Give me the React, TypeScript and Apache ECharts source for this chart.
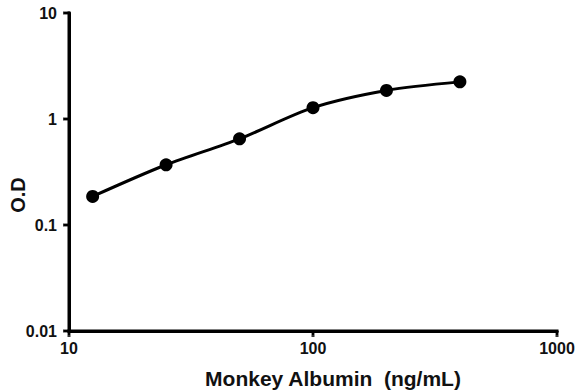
import React, { useEffect, useRef } from "react";
import * as echarts from "echarts";

const concentrations = [12.5, 25, 50, 100, 200, 400];
const odValues = [0.186, 0.37, 0.65, 1.28, 1.86, 2.24];
const xTicks = [10, 100, 1000];
const yTicks = [0.01, 0.1, 1, 10];
const xTitle = "Monkey Albumin  (ng/mL)";
const yTitle = "O.D";

export default function App() {
  const ref = useRef<HTMLDivElement>(null);
  useEffect(() => {
    document.body.style.margin = "0";
    document.body.style.background = "#ffffff";
    const chart = echarts.init(ref.current!, null, { renderer: "svg" });
    const font = "Liberation Sans, Arial, sans-serif";
    const xMin = xTicks[0];
    const xMax = xTicks[xTicks.length - 1];
    const yMin = yTicks[0];
    const yMax = yTicks[yTicks.length - 1];
    const axisSeriesBase = {
      type: "line",
      symbol: "none",
      clip: false,
      silent: true,
      z: 1,
      lineStyle: { color: "#000", width: 3, cap: "square" },
    };
    const tickSeriesBase = {
      type: "scatter",
      symbol: "rect",
      clip: false,
      silent: true,
      z: 1,
      itemStyle: { color: "#000" },
    };
    chart.setOption({
      animation: false,
      grid: {
        left: 69,
        top: 13,
        width: 488,
        height: 318,
        containLabel: false,
        outerBoundsMode: "none",
      },
      xAxis: {
        type: "log",
        logBase: 10,
        min: xMin,
        max: xMax,
        name: xTitle,
        nameLocation: "middle",
        nameGap: 37,
        nameMoveOverlap: false,
        nameTextStyle: {
          fontFamily: font,
          fontWeight: "bold",
          fontSize: 21,
          color: "#111",
          padding: [0, 0, 0, 40],
        },
        axisLine: { show: true, onZero: false, lineStyle: { color: "#000", width: 3 } },
        axisTick: { show: true, length: 4, lineStyle: { color: "#000", width: 2 } },
        axisLabel: {
          fontFamily: font,
          fontWeight: "bold",
          fontSize: 16,
          color: "#111",
          margin: 9,
          formatter: (v: number) => String(Math.round(v)),
        },
        splitLine: { show: false },
      },
      yAxis: {
        type: "log",
        logBase: 10,
        min: yMin,
        max: yMax,
        name: yTitle,
        nameLocation: "middle",
        nameGap: 41,
        nameMoveOverlap: false,
        nameRotate: 90,
        nameTextStyle: {
          fontFamily: font,
          fontWeight: "bold",
          fontSize: 20,
          color: "#111",
          padding: [0, 46, 0, 0],
        },
        axisLine: { show: true, onZero: false, lineStyle: { color: "#000", width: 3 } },
        axisTick: { show: true, length: 5, lineStyle: { color: "#000", width: 2 } },
        axisLabel: {
          fontFamily: font,
          fontWeight: "bold",
          fontSize: 16,
          color: "#111",
          margin: 12,
          formatter: (v: number) => String(v),
        },
        splitLine: { show: false },
      },
      series: [
        // x axis line
        { ...axisSeriesBase, data: [[xMin, yMin], [xMax, yMin]] },
        // y axis line
        { ...axisSeriesBase, data: [[xMin, yMin], [xMin, yMax]] },
        // x axis ticks (below the axis)
        {
          ...tickSeriesBase,
          symbolSize: [3, 6],
          symbolOffset: [0, 3],
          data: xTicks.map((t) => [t, yMin]),
        },
        // y axis ticks (left of the axis)
        {
          ...tickSeriesBase,
          symbolSize: [6, 3],
          symbolOffset: [-3, 0],
          data: yTicks.map((t) => [xMin, t]),
        },
        {
          type: "line",
          data: concentrations.map((c, i) => [c, odValues[i]]),
          smooth: 0.3,
          symbol: "circle",
          symbolSize: 13,
          z: 5,
          itemStyle: { color: "#000" },
          lineStyle: { color: "#000", width: 3 },
        },
      ],
    });
    return () => chart.dispose();
  }, []);
  return <div ref={ref} style={{ width: 575, height: 391 }} />;
}
